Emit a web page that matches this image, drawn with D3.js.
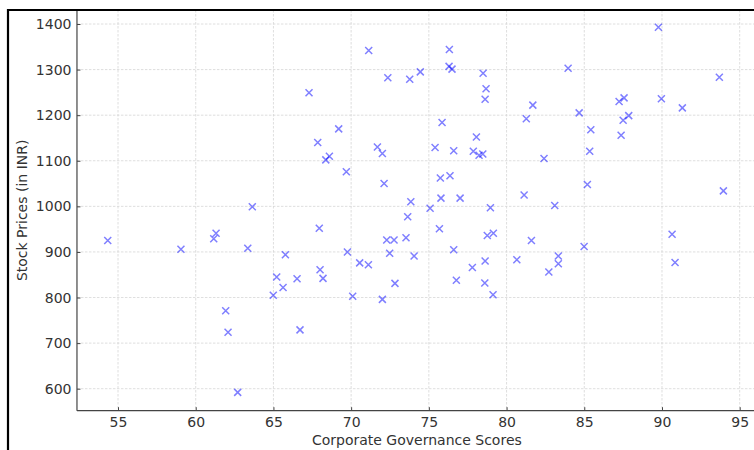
<!DOCTYPE html>
<html>
<head>
<meta charset="utf-8">
<script src="https://cdn.jsdelivr.net/npm/d3@7/dist/d3.min.js"></script>
<style>
    body { margin: 0; background: #fff; }
    svg { display: block; font-family: "DejaVu Sans", sans-serif; }
</style>
</head>
<body>
<div id="chart"></div>
<script>

// governance score (x) and stock price in INR (y)
var scores = [
    54.34, 59.05, 61.16, 61.31, 63.35, 63.64, 61.93, 62.08, 62.70, 65.77,
    65.21, 64.99, 65.62, 66.52, 66.71, 67.95, 68.00, 68.19, 69.76, 70.10,
    70.55, 71.11, 72.29, 72.76, 72.48, 73.53, 74.05, 72.82, 72.01, 75.68,
    76.60, 76.77, 77.80, 78.62, 78.60, 79.13, 78.76, 79.15, 80.66, 81.60,
    82.72, 83.33, 83.33, 84.99, 90.65, 90.84, 67.29, 69.20, 67.85, 68.37,
    68.60, 69.69, 71.13, 72.36, 73.77, 74.45, 76.32, 76.30, 76.49, 78.49,
    78.68, 78.62, 75.85, 78.06, 75.40, 76.60, 71.69, 72.01, 77.86, 78.23,
    78.47, 72.12, 75.74, 76.36, 73.84, 75.78, 77.01, 75.08, 78.96, 73.64,
    89.77, 83.96, 93.69, 81.69, 81.27, 84.67, 87.24, 87.56, 89.96, 91.31,
    87.50, 87.86, 85.42, 87.37, 85.35, 82.41, 85.20, 81.13, 83.10, 93.95
];

var prices = [
    925, 906, 929, 941, 908, 999, 771, 724, 592, 894,
    845, 805, 822, 841, 729, 952, 861, 842, 900, 803,
    876, 872, 926, 926, 897, 931, 891, 831, 796, 951,
    905, 838, 866, 880, 832, 806, 936, 941, 883, 925,
    856, 891, 874, 912, 939, 877, 1249, 1170, 1140, 1102,
    1110, 1076, 1342, 1282, 1279, 1295, 1344, 1307, 1301, 1292,
    1258, 1235, 1184, 1152, 1129, 1122, 1130, 1116, 1121, 1112,
    1115, 1050, 1062, 1067, 1010, 1018, 1018, 996, 997, 977,
    1393, 1303, 1283, 1222, 1192, 1205, 1230, 1238, 1236, 1216,
    1189, 1199, 1168, 1156, 1121, 1105, 1048, 1025, 1002, 1034
];

var xTicks = [55, 60, 65, 70, 75, 80, 85, 90, 95];
var yTicks = [600, 700, 800, 900, 1000, 1100, 1200, 1300, 1400];

var xLabel = "Corporate Governance Scores";
var yLabel = "Stock Prices (in INR)";

function drawChart() {

    var width,
        height,
        svg,
        x,
        y,
        left,
        right,
        top,
        bottom,
        grid,
        points,
        fontSize,
        axisColor,
        textColor;

    width = 754;
    height = 450;
    fontSize = "14px";
    axisColor = "#444";
    textColor = "#333";

    svg = d3.select("#chart").append("svg")
        .attr("width", width)
        .attr("height", height);

    x = d3.scaleLinear().domain([55, 95]).range([118, 739.7]);
    y = d3.scaleLinear().domain([600, 1400]).range([388.7, 24]);

    left = x(52.36);
    right = width + 5;
    top = 10;
    bottom = y(551.8);

    grid = svg.append("g")
        .attr("stroke", "#d6d6d6")
        .attr("stroke-width", 0.8)
        .attr("stroke-dasharray", "2.5,1.5");

    grid.selectAll("line.vx")
        .data(xTicks)
        .enter().append("line")
        .attr("class", "vx")
        .attr("x1", function(d) { return x(d); })
        .attr("x2", function(d) { return x(d); })
        .attr("y1", top)
        .attr("y2", bottom);

    grid.selectAll("line.hy")
        .data(yTicks)
        .enter().append("line")
        .attr("class", "hy")
        .attr("x1", left)
        .attr("x2", right)
        .attr("y1", function(d) { return y(d); })
        .attr("y2", function(d) { return y(d); });

    // x markers
    points = svg.append("g")
        .attr("stroke", "#0000ff")
        .attr("stroke-opacity", 0.5)
        .attr("stroke-width", 1.5)
        .attr("fill", "none");

    points.selectAll("path")
        .data(d3.range(scores.length))
        .enter().append("path")
        .attr("transform", function(i) {
            return "translate(" + x(scores[i]) + "," + y(prices[i]) + ")";
        })
        .attr("d", "M-3.5,-3.5L3.5,3.5M-3.5,3.5L3.5,-3.5");

    // axes, ticks pointing inward
    var xAxis = d3.axisBottom(x)
        .tickValues(xTicks)
        .tickFormat(d3.format("d"))
        .tickSizeInner(-3.5)
        .tickSizeOuter(0)
        .tickPadding(6);

    var yAxis = d3.axisLeft(y)
        .tickValues(yTicks)
        .tickFormat(d3.format("d"))
        .tickSizeInner(-3.5)
        .tickSizeOuter(0)
        .tickPadding(5.5);

    var gx = svg.append("g")
        .attr("transform", "translate(0," + bottom + ")")
        .call(xAxis);

    var gy = svg.append("g")
        .attr("transform", "translate(" + left + ",0)")
        .call(yAxis);

    [gx, gy].forEach(function(g) {
        g.select(".domain").remove();
        g.selectAll(".tick line").attr("stroke", axisColor).attr("stroke-width", 1);
        g.selectAll(".tick text")
            .attr("fill", textColor)
            .style("font-size", fontSize)
            .style("font-family", "DejaVu Sans, sans-serif");
    });

    svg.append("line")
        .attr("x1", left).attr("x2", left)
        .attr("y1", top).attr("y2", bottom)
        .attr("stroke", axisColor)
        .attr("stroke-width", 1.2);

    svg.append("line")
        .attr("x1", left).attr("x2", right)
        .attr("y1", bottom).attr("y2", bottom)
        .attr("stroke", axisColor)
        .attr("stroke-width", 1.2);

    svg.append("text")
        .attr("x", (x(52.36) + x(96.1)) / 2)
        .attr("y", 445)
        .attr("text-anchor", "middle")
        .attr("fill", textColor)
        .style("font-size", fontSize)
        .text(xLabel);

    svg.append("text")
        .attr("transform", "translate(27," + ((top + bottom) / 2) + ") rotate(-90)")
        .attr("text-anchor", "middle")
        .attr("fill", textColor)
        .style("font-size", fontSize)
        .text(yLabel);

    // black frame round the figure
    svg.append("path")
        .attr("d", "M8," + height + "V10H" + width)
        .attr("fill", "none")
        .attr("stroke", "#000")
        .attr("stroke-width", 2.2);
}

drawChart();

</script>
</body>
</html>
